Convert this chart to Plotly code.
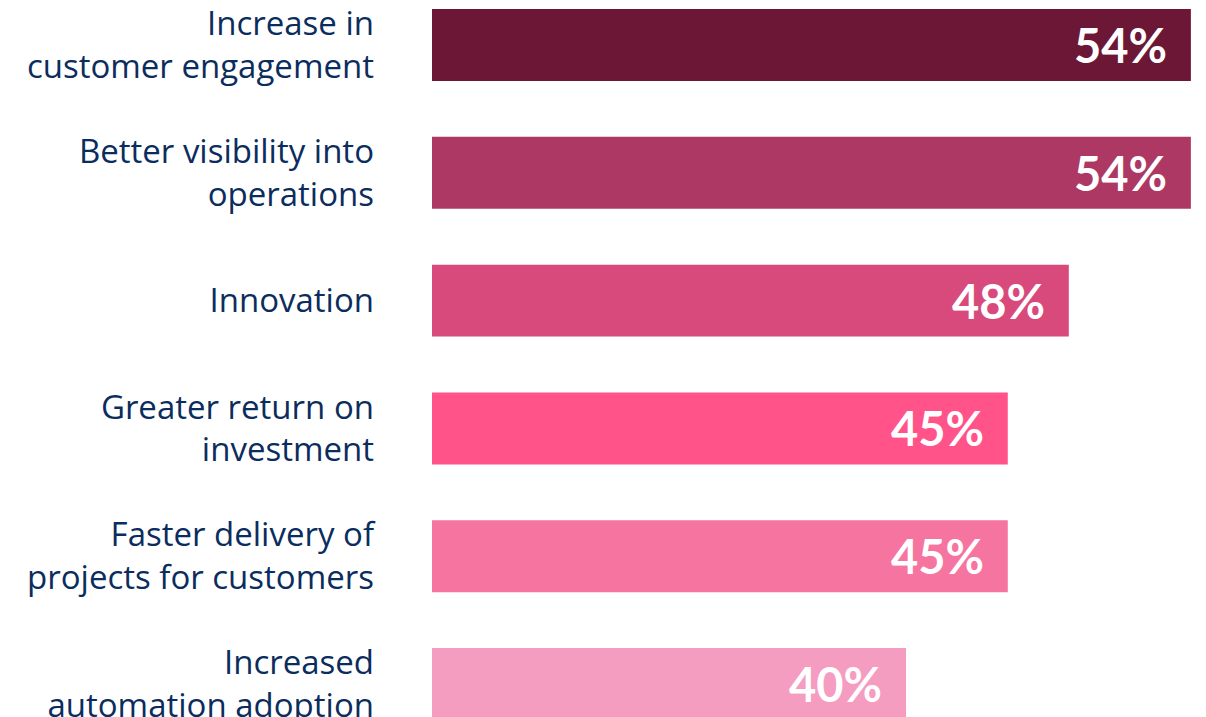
import plotly.graph_objects as go

categories = [
    "Increase in<br>customer engagement",
    "Better visibility into<br>operations",
    "Innovation",
    "Greater return on<br>investment",
    "Faster delivery of<br>projects for customers",
    "Increased<br>automation adoption",
]
values = [54, 54, 48, 45, 45, 40]
labels = ["54%", "54%", "48%", "45%", "45%", "40%"]
colors = ["#6b1735", "#ad3863", "#d84a7c", "#ff5389", "#f574a0", "#f59cc1"]

fig = go.Figure(
    go.Bar(
        x=values,
        y=categories,
        orientation="h",
        marker=dict(color=colors, line=dict(width=0)),
        width=0.563,
        hoverinfo="skip",
    )
)

for v, c, t in zip(values, categories, labels):
    fig.add_annotation(
        x=v, y=c, text=t, showarrow=False, xanchor="right", yanchor="middle",
        xshift=-22, font=dict(family="Lato", size=47, color="white", weight="bold"),
    )

fig.update_layout(
    width=1206, height=717,
    margin=dict(l=432, r=8, t=0, b=0, autoexpand=False),
    paper_bgcolor="white", plot_bgcolor="white",
    showlegend=False,
    xaxis=dict(range=[16.7, 54.35], visible=False, fixedrange=True, automargin=False),
    yaxis=dict(
        type="category", range=[5.258, -0.352], showgrid=False, zeroline=False,
        showline=False, ticks="", ticklabelstandoff=57, automargin=False,
        fixedrange=True,
        tickfont=dict(family="Open Sans", size=33, color="#0b2d5e"),
    ),
)

fig.write_html(
    "out.html",
    config={"displayModeBar": False},
    post_script="document.body.style.margin='0px';",
)
